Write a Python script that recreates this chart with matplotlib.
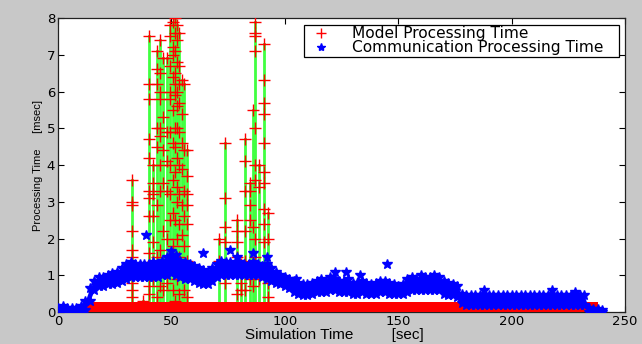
import matplotlib
matplotlib.use("Agg")
import matplotlib.pyplot as plt
import numpy as np

# ---------------- data ----------------
# Communication processing time: band (upper / lower envelope), sampled every 2 s
comm_t = list(range(0, 242, 2))
comm_hi = [0.12, 0.15, 0.10, 0.12, 0.10, 0.15, 0.30, 0.65, 0.85, 0.95,
           0.95, 1.00, 1.05, 1.10, 1.20, 1.30, 1.35, 1.30, 1.30, 1.30,
           1.30, 1.35, 1.30, 1.40, 1.50, 1.65, 1.55, 1.40, 1.35, 1.30,
           1.25, 1.20, 1.15, 1.10, 1.20, 1.30, 1.40, 1.35, 1.35, 1.30,
           1.35, 1.30, 1.30, 1.35, 1.30, 1.25, 1.30, 1.20, 1.10, 1.00,
           0.95, 0.90, 0.85, 0.80, 0.75, 0.75, 0.80, 0.85, 0.90, 0.85,
           0.95, 0.90, 0.85, 0.85, 0.90, 0.80, 0.80, 0.85, 0.80, 0.75,
           0.80, 0.85, 0.85, 0.80, 0.75, 0.70, 0.75, 0.90, 0.95, 0.90,
           0.90, 0.95, 0.95, 1.00, 0.95, 0.85, 0.80, 0.75, 0.70, 0.50,
           0.45, 0.45, 0.45, 0.45, 0.45, 0.45, 0.45, 0.45, 0.45, 0.45,
           0.45, 0.45, 0.45, 0.45, 0.45, 0.45, 0.45, 0.45, 0.45, 0.45,
           0.45, 0.45, 0.45, 0.45, 0.45, 0.45, 0.45, 0.10, 0.08, 0.08,
           0.05]
comm_lo = [0.00, 0.00, 0.00, 0.00, 0.00, 0.00, 0.05, 0.30, 0.60, 0.70,
           0.70, 0.75, 0.75, 0.80, 0.85, 0.90, 0.95, 0.95, 0.95, 0.95,
           0.95, 0.95, 0.95, 1.00, 1.00, 1.05, 1.00, 0.95, 0.90, 0.90,
           0.85, 0.80, 0.75, 0.75, 0.85, 0.95, 1.00, 1.00, 1.00, 1.00,
           1.00, 1.00, 1.00, 1.00, 1.00, 0.95, 0.90, 0.85, 0.80, 0.75,
           0.70, 0.65, 0.55, 0.50, 0.45, 0.45, 0.50, 0.55, 0.55, 0.55,
           0.60, 0.60, 0.55, 0.55, 0.55, 0.50, 0.50, 0.55, 0.50, 0.50,
           0.50, 0.55, 0.55, 0.50, 0.50, 0.50, 0.50, 0.55, 0.60, 0.60,
           0.60, 0.60, 0.60, 0.60, 0.60, 0.50, 0.45, 0.45, 0.40, 0.25,
           0.20, 0.20, 0.20, 0.20, 0.20, 0.20, 0.20, 0.20, 0.20, 0.20,
           0.20, 0.20, 0.20, 0.20, 0.20, 0.20, 0.20, 0.20, 0.20, 0.20,
           0.20, 0.20, 0.20, 0.20, 0.20, 0.20, 0.20, 0.00, 0.00, 0.00,
           0.00]
comm_out_t = [39, 64, 76, 79, 86, 92, 105, 122, 127, 133, 145, 160, 188, 218, 228]
comm_out_v = [2.1, 1.6, 1.7, 1.5, 1.6, 1.5, 0.9, 1.1, 1.1, 1.0, 1.3, 1.0, 0.6, 0.6, 0.55]

# Model processing time: baseline band + spikes
model_base_t = [13, 238]
model_base_lo = [0.0, 0.0]
model_base_hi = [0.27, 0.27]

spike_t = [32.5, 37.5, 40.0, 42.0, 43.5, 45.0, 46.5, 48.0, 49.5, 50.5,
           51.5, 52.5, 53.5, 54.5, 55.5, 57.0, 71.0, 73.5, 79.0, 80.5,
           82.5, 84.5, 86.0, 87.0, 88.5, 91.0, 92.5]
spike_vals = [
    [3.6, 3.0, 2.9, 2.2, 1.7, 1.5, 1.0, 0.8, 0.6, 0.4],
    [0.3],
    [7.5, 6.2, 5.8, 4.7, 4.2, 3.3, 3.1, 2.6, 1.6, 1.2, 0.7, 0.5],
    [4.0, 3.5, 3.2, 2.6, 1.9, 1.4, 0.9],
    [7.1, 6.6, 6.2, 5.0, 4.5, 2.9, 1.5, 0.4],
    [7.4, 6.5, 6.0, 5.8, 5.0, 4.8, 4.0, 3.3, 1.7, 0.7],
    [6.9, 5.3, 4.4, 3.5, 2.2, 0.6],
    [6.9, 4.9, 4.1, 3.3, 2.0, 0.8],
    [7.8, 7.5, 6.7, 6.0, 5.8, 4.9, 4.0, 3.2, 2.5, 1.2],
    [7.9, 7.2, 7.0, 6.4, 5.5, 4.6, 3.6, 2.7, 1.8, 0.6],
    [8.0, 7.6, 7.1, 6.5, 6.2, 5.9, 5.0, 4.5, 3.8, 2.5, 1.4, 0.3],
    [7.8, 7.4, 6.8, 6.0, 5.6, 5.0, 4.2, 3.4, 3.0, 2.0, 0.9],
    [7.6, 6.7, 6.2, 5.7, 4.9, 4.0, 3.2, 2.4, 1.5, 0.5],
    [6.3, 5.4, 4.6, 3.9, 2.9, 2.1, 1.0],
    [6.2, 4.4, 3.3, 2.6, 1.8, 0.6],
    [4.4, 3.7, 3.2, 2.9, 2.4, 1.4, 0.4],
    [2.0, 1.4],
    [4.6, 3.1, 2.3, 1.9, 0.8],
    [2.5, 2.2, 1.9, 1.5, 0.5],
    [1.3, 0.8, 0.6],
    [4.7, 4.1, 3.3, 2.2, 1.4, 0.6],
    [3.5, 3.3, 2.9, 2.5, 1.2, 0.9],
    [5.5, 2.3, 0.7],
    [7.9, 7.6, 7.5, 7.1, 5.0, 4.0, 3.6, 2.0, 1.5],
    [4.0, 3.4, 0.9],
    [7.3, 6.3, 5.7, 5.4, 4.6, 3.8, 3.5, 2.8, 2.4, 1.9],
    [2.7, 2.0, 0.8, 0.4],
]

x_ticks = [0, 50, 100, 150, 200, 250]
y_ticks = [0, 1, 2, 3, 4, 5, 6, 7, 8]

# ---------------- plot ----------------
FONT = "Liberation Sans"
WIDE = "DejaVu Sans"
fig = plt.figure(figsize=(6.42, 3.44), dpi=100, facecolor="#c8c8c8")
ax = fig.add_axes([58 / 642, 32 / 344, 567 / 642, 294 / 344])
ax.set_facecolor("white")

RED = (1.0, 0.0, 0.0)
BLUE = (0.0, 0.0, 1.0)
GREEN = (0.25, 1.0, 0.25)

# green vertical lines for spikes
for t, vals in zip(spike_t, spike_vals):
    ax.plot([t, t], [0, max(vals)], color=GREEN, lw=2.0, zorder=2)
# red + markers
for t, vals in zip(spike_t, spike_vals):
    ax.plot([t] * len(vals), vals, linestyle="none", marker="+", ms=8,
            mew=1.0, color=RED, zorder=3)

# red baseline band
ax.fill_between(model_base_t, model_base_lo, model_base_hi, color=RED,
                lw=0, zorder=3)

# blue communication band
ax.fill_between(comm_t, comm_lo, comm_hi, color=BLUE, lw=0, zorder=4)
ax.plot(comm_t, comm_hi, linestyle="none", marker="*", ms=7.5, color=BLUE,
        zorder=4)
ax.plot(comm_t, comm_lo, linestyle="none", marker="*", ms=7.5, color=BLUE,
        zorder=4)
ax.plot(comm_out_t, comm_out_v, linestyle="none", marker="*", ms=7.5,
        color=BLUE, zorder=4)

ax.set_xlim(0, 250)
ax.set_ylim(0, 8)
ax.set_xticks(x_ticks)
ax.set_yticks(y_ticks)
ax.set_xticklabels([str(v) for v in x_ticks], family=WIDE, fontsize=9.5)
ax.set_yticklabels([str(v) for v in y_ticks], family=WIDE, fontsize=9.5)
ax.tick_params(direction="in", top=True, right=True, length=4, width=0.8,
               pad=2)
for s in ax.spines.values():
    s.set_linewidth(0.9)
    s.set_color("#222222")

ax.set_xlabel("Simulation Time         [sec]", family=FONT, fontsize=11,
              labelpad=0)
ax.xaxis.set_label_coords(0.488, -0.055)
ax.set_ylabel("Processing Time     [msec]", family=FONT, fontsize=8,
              labelpad=3)

# legend
h1, = ax.plot([], [], linestyle="none", marker="+", ms=7, color=RED)
h2, = ax.plot([], [], linestyle="none", marker="*", ms=6, color=BLUE)
leg = ax.legend([h1, h2], ["Model Processing Time   ",
                           "Communication Processing Time   "],
                loc="upper right", bbox_to_anchor=(0.995, 0.988),
                prop={"family": WIDE, "size": 11.1}, frameon=True,
                fancybox=False, framealpha=1, edgecolor="black",
                borderpad=0.1, labelspacing=-0.05, handletextpad=1.0,
                handlelength=2.0, borderaxespad=0.2)
leg.get_frame().set_linewidth(0.9)

fig.savefig("out.png", dpi=100, facecolor=fig.get_facecolor())
